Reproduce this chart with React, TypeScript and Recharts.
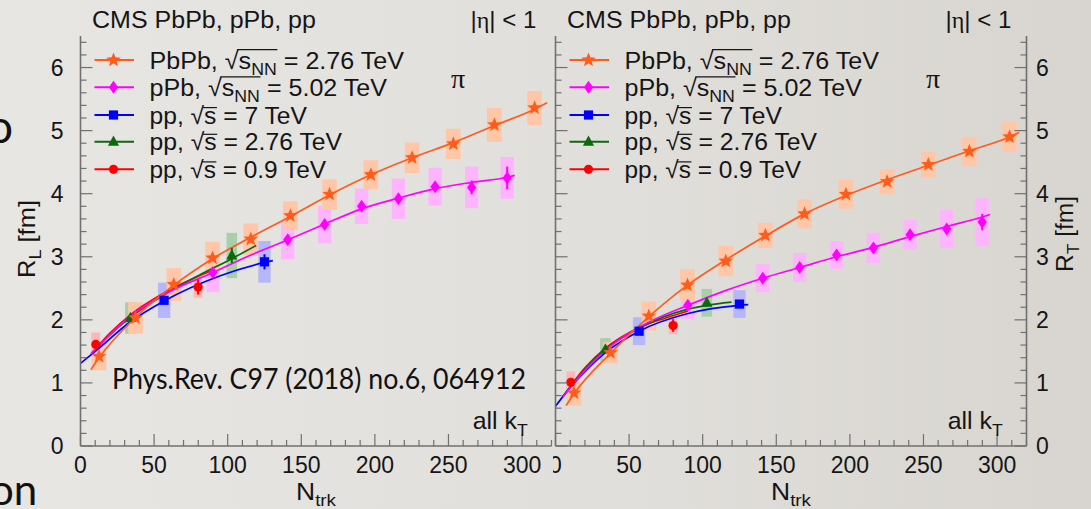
import React from 'react';
import {
  ComposedChart,
  Line,
  Scatter,
  XAxis,
  YAxis,
  ErrorBar,
  ReferenceArea,
  Legend,
} from 'recharts';

// ---------- bin centres (N_trk) ----------
const PBPB_N = [12.6, 37.4, 63.4, 89.7, 115.7, 142.6, 169.2, 197.3, 225.3, 253.3, 281.2, 308.5];
const PPB_N = [89.9, 140.8, 165.9, 191.0, 216.0, 240.9, 265.8, 289.9];
const PP7_N = [56.8, 125.0];
const PP276_N = [33.9, 102.8];
const PP09_N = [10.4, 79.9];

// ---------- R_L [fm] ----------
const RL_PBPB = [1.42, 2.03, 2.56, 2.98, 3.28, 3.65, 3.99, 4.3, 4.57, 4.79, 5.09, 5.36];
const RL_PBPB_STAT = [0.03, 0.02, 0.02, 0.02, 0.02, 0.02, 0.02, 0.02, 0.03, 0.03, 0.04, 0.05];
const RL_PBPB_SYS = [0.22, 0.25, 0.26, 0.26, 0.25, 0.23, 0.24, 0.23, 0.24, 0.24, 0.27, 0.27];
const RL_PPB = [2.75, 3.27, 3.51, 3.8, 3.92, 4.11, 4.1, 4.25];
const RL_PPB_STAT = [0.04, 0.04, 0.04, 0.05, 0.05, 0.06, 0.11, 0.18];
const RL_PPB_SYS = [0.31, 0.31, 0.3, 0.28, 0.32, 0.3, 0.33, 0.33];
const RL_PP7 = [2.31, 2.92];
const RL_PP7_STAT = [0.05, 0.12];
const RL_PP7_SYS = [0.28, 0.33];
const RL_PP276 = [2.03, 3.02];
const RL_PP276_STAT = [0.05, 0.12];
const RL_PP276_SYS = [0.25, 0.36];
const RL_PP09 = [1.61, 2.52];
const RL_PP09_STAT = [0.05, 0.12];
const RL_PP09_SYS = [0.19, 0.17];

// fitted curves, R_L
const RL_PBPB_FIT_N = [7, 12.6, 37.4, 63.4, 89.7, 115.7, 142.6, 169.2, 197.3, 225.3, 253.3, 281.2, 308.5, 317];
const RL_PBPB_FIT = [1.21, 1.4, 2.04, 2.55, 2.97, 3.31, 3.64, 3.98, 4.3, 4.57, 4.81, 5.08, 5.34, 5.44];
const RL_PPB_FIT_N = [7, 33, 60, 90, 115, 141, 166, 191, 216, 241, 266, 290, 295];
const RL_PPB_FIT = [1.46, 2.04, 2.44, 2.75, 3.02, 3.27, 3.52, 3.76, 3.93, 4.08, 4.18, 4.26, 4.29];
const RL_PP7_FIT_N = [0, 10, 33.9, 56.8, 95, 125, 130.7];
const RL_PP7_FIT = [1.31, 1.5, 1.97, 2.3, 2.7, 2.91, 2.94];
const RL_PP276_FIT_N = [7.5, 20, 33.9, 57, 80, 102.8, 119.4];
const RL_PP276_FIT = [1.46, 1.76, 2.04, 2.4, 2.7, 2.97, 3.18];
const RL_PP09_FIT_N = [7.5, 20, 33.9, 57, 75, 88];
const RL_PP09_FIT = [1.47, 1.79, 2.08, 2.43, 2.64, 2.77];

// ---------- R_T [fm] ----------
const RT_PBPB = [0.84, 1.48, 2.06, 2.55, 2.93, 3.34, 3.68, 3.99, 4.19, 4.46, 4.67, 4.9];
const RT_PBPB_STAT = [0.03, 0.02, 0.02, 0.02, 0.02, 0.02, 0.02, 0.02, 0.03, 0.03, 0.04, 0.05];
const RT_PBPB_SYS = [0.2, 0.17, 0.23, 0.25, 0.24, 0.2, 0.23, 0.23, 0.2, 0.21, 0.23, 0.24];
const RT_PPB = [2.23, 2.66, 2.83, 3.03, 3.14, 3.35, 3.44, 3.55];
const RT_PPB_STAT = [0.04, 0.04, 0.04, 0.05, 0.05, 0.06, 0.08, 0.13];
const RT_PPB_SYS = [0.22, 0.22, 0.23, 0.22, 0.24, 0.24, 0.3, 0.38];
const RT_PP7 = [1.82, 2.25];
const RT_PP7_STAT = [0.04, 0.06];
const RT_PP7_SYS = [0.22, 0.22];
const RT_PP276 = [1.53, 2.27];
const RT_PP276_STAT = [0.04, 0.06];
const RT_PP276_SYS = [0.18, 0.22];
const RT_PP09 = [1.01, 1.91];
const RT_PP09_STAT = [0.04, 0.1];
const RT_PP09_SYS = [0.17, 0.14];

// fitted curves, R_T
const RT_PBPB_FIT_N = [7.1, 12.6, 37.4, 63.4, 89.7, 115.7, 142.6, 169.2, 197.3, 225.3, 253.3, 281.2, 308.5, 315];
const RT_PBPB_FIT = [0.64, 0.83, 1.47, 2.05, 2.55, 2.95, 3.33, 3.68, 3.97, 4.22, 4.45, 4.68, 4.9, 4.97];
const RT_PPB_FIT_N = [5, 20, 34, 64, 89.9, 115, 140.8, 165.9, 191, 216, 240.9, 265.8, 289.9, 295.3];
const RT_PPB_FIT = [0.78, 1.2, 1.52, 1.97, 2.23, 2.46, 2.66, 2.83, 3.0, 3.15, 3.32, 3.48, 3.63, 3.67];
const RT_PP7_FIT_N = [0, 10, 20, 33.9, 56.8, 90, 125, 131];
const RT_PP7_FIT = [0.63, 0.93, 1.18, 1.48, 1.82, 2.1, 2.23, 2.24];
const RT_PP276_FIT_N = [5, 20, 33.9, 57, 90, 102.8, 119.6];
const RT_PP276_FIT = [0.78, 1.22, 1.53, 1.87, 2.17, 2.23, 2.28];
const RT_PP09_FIT_N = [5, 20, 33.9, 57, 75, 90];
const RT_PP09_FIT = [0.78, 1.24, 1.55, 1.88, 2.03, 2.14];

// ---------- axes ----------
const N_DOMAIN: [number, number] = [0, 320];
const R_DOMAIN: [number, number] = [0, 6.5];
const N_TICKS = Array.from({ length: 33 }, (_, i) => i * 10);
const R_TICKS = Array.from({ length: 33 }, (_, i) => Math.round(i * 2) / 10);

// ---------- look ----------
const SANS = "'Liberation Sans', Arial, Helvetica, sans-serif";
const SERIF = "'Liberation Serif', 'Times New Roman', serif";
const INK = '#151515';
const FRAME = '#707070';
const TEXT_SIZE = 24;
const SUB_SIZE = 17;
const TICK_SIZE = 23;

type MarkerKind = 'star' | 'diamond' | 'square' | 'triangle' | 'circle';

type Series = {
  id: string;
  color: string;
  box: string;
  marker: MarkerKind;
  halfWidth: number;
  n: number[];
  r: number[];
  stat: number[];
  sys: number[];
  fitN: number[];
  fitR: number[];
};

const STYLE = {
  pbpb: { color: '#ff5c1c', box: '#ffc7a8', marker: 'star' as MarkerKind, halfWidth: 5.0 },
  ppb: { color: '#ff00ff', box: '#ffb4ff', marker: 'diamond' as MarkerKind, halfWidth: 4.5 },
  pp7: { color: '#0000ff', box: '#b6b6fa', marker: 'square' as MarkerKind, halfWidth: 4.2 },
  pp276: { color: '#0c6a0c', box: '#a9cfa9', marker: 'triangle' as MarkerKind, halfWidth: 3.6 },
  pp09: { color: '#ff0000', box: '#ffb6b6', marker: 'circle' as MarkerKind, halfWidth: 3.0 },
};

const LEFT_SERIES: Series[] = [
  { id: 'pp09', ...STYLE.pp09, n: PP09_N, r: RL_PP09, stat: RL_PP09_STAT, sys: RL_PP09_SYS, fitN: RL_PP09_FIT_N, fitR: RL_PP09_FIT },
  { id: 'pp276', ...STYLE.pp276, n: PP276_N, r: RL_PP276, stat: RL_PP276_STAT, sys: RL_PP276_SYS, fitN: RL_PP276_FIT_N, fitR: RL_PP276_FIT },
  { id: 'pp7', ...STYLE.pp7, n: PP7_N, r: RL_PP7, stat: RL_PP7_STAT, sys: RL_PP7_SYS, fitN: RL_PP7_FIT_N, fitR: RL_PP7_FIT },
  { id: 'ppb', ...STYLE.ppb, n: PPB_N, r: RL_PPB, stat: RL_PPB_STAT, sys: RL_PPB_SYS, fitN: RL_PPB_FIT_N, fitR: RL_PPB_FIT },
  { id: 'pbpb', ...STYLE.pbpb, n: PBPB_N, r: RL_PBPB, stat: RL_PBPB_STAT, sys: RL_PBPB_SYS, fitN: RL_PBPB_FIT_N, fitR: RL_PBPB_FIT },
];

const RIGHT_SERIES: Series[] = [
  { id: 'pp09', ...STYLE.pp09, n: PP09_N, r: RT_PP09, stat: RT_PP09_STAT, sys: RT_PP09_SYS, fitN: RT_PP09_FIT_N, fitR: RT_PP09_FIT },
  { id: 'pp276', ...STYLE.pp276, n: PP276_N, r: RT_PP276, stat: RT_PP276_STAT, sys: RT_PP276_SYS, fitN: RT_PP276_FIT_N, fitR: RT_PP276_FIT },
  { id: 'pp7', ...STYLE.pp7, n: PP7_N, r: RT_PP7, stat: RT_PP7_STAT, sys: RT_PP7_SYS, fitN: RT_PP7_FIT_N, fitR: RT_PP7_FIT },
  { id: 'ppb', ...STYLE.ppb, n: PPB_N, r: RT_PPB, stat: RT_PPB_STAT, sys: RT_PPB_SYS, fitN: RT_PPB_FIT_N, fitR: RT_PPB_FIT },
  { id: 'pbpb', ...STYLE.pbpb, n: PBPB_N, r: RT_PBPB, stat: RT_PBPB_STAT, sys: RT_PBPB_SYS, fitN: RT_PBPB_FIT_N, fitR: RT_PBPB_FIT },
];

// legend rows: label pieces around the sqrt(s) and the set width of each line of text
const LEGEND_ROWS = [
  { id: 'pbpb', pre: 'PbPb, ', sub: 'NN', post: ' = 2.76 TeV', width: 255 },
  { id: 'ppb', pre: 'pPb, ', sub: 'NN', post: ' = 5.02 TeV', width: 238 },
  { id: 'pp7', pre: 'pp, ', sub: '', post: ' = 7 TeV', width: 158 },
  { id: 'pp276', pre: 'pp, ', sub: '', post: ' = 2.76 TeV', width: 193 },
  { id: 'pp09', pre: 'pp, ', sub: '', post: ' = 0.9 TeV', width: 177 },
];

// ---------- text helpers ----------
let measureCtx: CanvasRenderingContext2D | null = null;
function textWidth(s: string, size: number, family = SANS): number {
  if (!measureCtx) measureCtx = document.createElement('canvas').getContext('2d');
  if (!measureCtx) return s.length * size * 0.55;
  measureCtx.font = `${size}px ${family}`;
  return measureCtx.measureText(s).width;
}

type Seg = { t: string; size?: number; dy?: number; family?: string };

// Text set to a given overall width (horizontal scale only), optionally rotated.
function FitText({
  x,
  y,
  width,
  segs,
  anchor = 'start',
  rotate = 0,
  size = TEXT_SIZE,
  family = SANS,
  fill = INK,
  children,
}: {
  x: number;
  y: number;
  width: number;
  segs: Seg[];
  anchor?: 'start' | 'middle' | 'end';
  rotate?: number;
  size?: number;
  family?: string;
  fill?: string;
  children?: (w: number[]) => React.ReactNode;
}) {
  const widths = segs.map((s) => textWidth(s.t, s.size ?? size, s.family ?? family));
  const total = widths.reduce((a, b) => a + b, 0) || 1;
  const sx = width / total;
  const x0 = anchor === 'start' ? 0 : anchor === 'end' ? -total : -total / 2;
  return (
    <g transform={`translate(${x},${y}) rotate(${rotate}) scale(${sx},1) translate(${x0},0)`}>
      <text x={0} y={0} fontSize={size} fontFamily={family} fill={fill} style={{ whiteSpace: 'pre' }}>
        {segs.map((s, i) => (
          <tspan key={i} fontSize={s.size ?? size} fontFamily={s.family ?? family} dy={s.dy ?? 0}>
            {s.t}
          </tspan>
        ))}
      </text>
      {children ? children(widths) : null}
    </g>
  );
}

function Marker({ kind, cx, cy, color }: { kind: MarkerKind; cx: number; cy: number; color: string }) {
  switch (kind) {
    case 'star': {
      const pts: string[] = [];
      for (let i = 0; i < 10; i++) {
        const a = -Math.PI / 2 + (i * Math.PI) / 5;
        const rr = i % 2 === 0 ? 7.6 : 3.3;
        pts.push(`${cx + rr * Math.cos(a)},${cy + rr * Math.sin(a)}`);
      }
      return <polygon points={pts.join(' ')} fill={color} />;
    }
    case 'diamond':
      return <polygon points={`${cx},${cy - 6.5} ${cx + 4.6},${cy} ${cx},${cy + 6.5} ${cx - 4.6},${cy}`} fill={color} />;
    case 'square':
      return <rect x={cx - 4.6} y={cy - 4.6} width={9.2} height={9.2} fill={color} />;
    case 'triangle':
      return <polygon points={`${cx},${cy - 6.2} ${cx + 5.6},${cy + 4} ${cx - 5.6},${cy + 4}`} fill={color} />;
    default:
      return <circle cx={cx} cy={cy} r={4.6} fill={color} />;
  }
}

// ---------- tick renderers (ticks point into the frame) ----------
const MAJ = 12;
const MIN = 6;

function makeBottomTick(labels: boolean) {
  return (p: any) => {
    const { x, y, payload } = p;
    const v = payload.value as number;
    const major = v % 50 === 0;
    return (
      <g>
        <line x1={x} x2={x} y1={y} y2={y - (major ? MAJ : MIN)} stroke={FRAME} strokeWidth={1.2} />
        {labels && major && (
          <text x={x} y={y + 27} textAnchor="middle" fontSize={TICK_SIZE} fontFamily={SANS} fill={INK}>
            {v}
          </text>
        )}
      </g>
    );
  };
}

function topTick(p: any) {
  const { x, y, payload } = p;
  const major = (payload.value as number) % 50 === 0;
  return <line x1={x} x2={x} y1={y} y2={y + (major ? MAJ : MIN)} stroke={FRAME} strokeWidth={1.2} />;
}

function makeLeftTick(labels: boolean) {
  return (p: any) => {
    const { x, y, payload } = p;
    const v = payload.value as number;
    const major = Number.isInteger(v);
    return (
      <g>
        <line x1={x} x2={x + (major ? MAJ : MIN)} y1={y} y2={y} stroke={FRAME} strokeWidth={1.2} />
        {labels && major && (
          <text x={x - 17} y={y + 8.3} textAnchor="end" fontSize={TICK_SIZE} fontFamily={SANS} fill={INK}>
            {v}
          </text>
        )}
      </g>
    );
  };
}

function makeRightTick(labels: boolean) {
  return (p: any) => {
    const { x, y, payload } = p;
    const v = payload.value as number;
    const major = Number.isInteger(v);
    return (
      <g>
        <line x1={x} x2={x - (major ? MAJ : MIN)} y1={y} y2={y} stroke={FRAME} strokeWidth={1.2} />
        {labels && major && (
          <text x={x + 9.5} y={y + 8.3} textAnchor="start" fontSize={TICK_SIZE} fontFamily={SANS} fill={INK}>
            {v}
          </text>
        )}
      </g>
    );
  };
}

// ---------- legend ----------
function LegendLabel({ x, y, row }: { x: number; y: number; row: (typeof LEGEND_ROWS)[number] }) {
  const segs: Seg[] = [{ t: row.pre }, { t: '\u221A' }, { t: 's' }];
  if (row.sub) segs.push({ t: row.sub, size: SUB_SIZE, dy: 6 });
  segs.push({ t: row.post, dy: row.sub ? -6 : 0 });
  return (
    <FitText x={x} y={y} width={row.width} segs={segs}>
      {(w) => {
        const x0 = w[0] + w[1];
        const x1 = x0 + w[2] + (row.sub ? w[3] : 0);
        const barY = row.sub ? -19 : -16;
        return <line x1={x0 - 1.5} x2={x1 + 0.5} y1={barY} y2={barY} stroke={INK} strokeWidth={1.2} />;
      }}
    </FitText>
  );
}

function LegendBox() {
  const rowY = [16, 43.3, 71, 97.7, 125.3];
  return (
    <svg width={360} height={145} style={{ overflow: 'visible' }}>
      {LEGEND_ROWS.map((row, i) => {
        const st = STYLE[row.id as keyof typeof STYLE];
        const cy = rowY[i];
        return (
          <g key={row.id}>
            <line x1={4.5} x2={44} y1={cy} y2={cy} stroke={st.color} strokeWidth={2} />
            <Marker kind={st.marker} cx={23.5} cy={cy} color={st.color} />
            <LegendLabel x={59.5} y={cy + 8.6} row={row} />
          </g>
        );
      })}
    </svg>
  );
}

// ---------- one panel ----------
type PanelProps = {
  series: Series[];
  width: number;
  leftAxisWidth: number;
  rightAxisWidth: number;
  marginRight: number;
  leftLabels: boolean;
  rightLabels: boolean;
  legendLeft: number;
};

function Panel({ series, width, leftAxisWidth, rightAxisWidth, marginRight, leftLabels, rightLabels, legendLeft }: PanelProps) {
  const boxes = series.flatMap((s) =>
    s.n.map((n, i) => (
      <ReferenceArea
        key={`box-${s.id}-${i}`}
        xAxisId="b"
        yAxisId="l"
        x1={n - s.halfWidth}
        x2={n + s.halfWidth}
        y1={s.r[i] - s.sys[i]}
        y2={s.r[i] + s.sys[i]}
        fill={s.box}
        fillOpacity={1}
        stroke="none"
        ifOverflow="visible"
      />
    ))
  );

  const fits = series.map((s) => (
    <Line
      key={`fit-${s.id}`}
      xAxisId="b"
      yAxisId="l"
      data={s.fitN.map((n, i) => ({ n, r: s.fitR[i] }))}
      dataKey="r"
      type="monotone"
      stroke={s.color}
      strokeWidth={1.7}
      dot={false}
      activeDot={false}
      isAnimationActive={false}
      legendType="none"
    />
  ));

  const points = series.map((s) => (
    <Scatter
      key={`pts-${s.id}`}
      xAxisId="b"
      yAxisId="l"
      data={s.n.map((n, i) => ({ n, r: s.r[i], e: s.stat[i] }))}
      dataKey="r"
      isAnimationActive={false}
      legendType="none"
      shape={(p: any) => <Marker kind={s.marker} cx={p.cx} cy={p.cy} color={s.color} />}
    >
      <ErrorBar dataKey="e" direction="y" width={0} stroke={s.color} strokeWidth={2} isAnimationActive={false} />
    </Scatter>
  ));

  return (
    <ComposedChart width={width} height={509} margin={{ top: 36, right: marginRight, bottom: 0, left: 0 }}>
      {boxes}
      {fits}
      {points}
      <XAxis
        xAxisId="b"
        dataKey="n"
        type="number"
        orientation="bottom"
        domain={N_DOMAIN}
        allowDataOverflow
        ticks={N_TICKS}
        interval={0}
        height={63}
        tickSize={0}
        tickMargin={0}
        tickLine={false}
        axisLine={{ stroke: FRAME, strokeWidth: 1.6 }}
        tick={makeBottomTick(true)}
      />
      <XAxis
        xAxisId="t"
        type="number"
        orientation="top"
        domain={N_DOMAIN}
        allowDataOverflow
        ticks={N_TICKS}
        interval={0}
        height={0}
        tickSize={0}
        tickMargin={0}
        tickLine={false}
        axisLine={{ stroke: FRAME, strokeWidth: 1.6 }}
        tick={topTick}
      />
      <YAxis
        yAxisId="l"
        dataKey="r"
        type="number"
        orientation="left"
        domain={R_DOMAIN}
        allowDataOverflow
        ticks={R_TICKS}
        interval={0}
        width={leftAxisWidth}
        tickSize={0}
        tickMargin={0}
        tickLine={false}
        axisLine={{ stroke: FRAME, strokeWidth: 1.6 }}
        tick={makeLeftTick(leftLabels)}
      />
      <YAxis
        yAxisId="r"
        type="number"
        orientation="right"
        domain={R_DOMAIN}
        allowDataOverflow
        ticks={R_TICKS}
        interval={0}
        width={rightAxisWidth}
        tickSize={0}
        tickMargin={0}
        tickLine={false}
        axisLine={{ stroke: FRAME, strokeWidth: 1.6 }}
        tick={makeRightTick(rightLabels)}
      />
      <Legend
        layout="vertical"
        align="center"
        verticalAlign="middle"
        wrapperStyle={{ left: legendLeft, top: 44, width: 360, height: 145 }}
        content={() => <LegendBox />}
      />
    </ComposedChart>
  );
}

// ---------- annotations drawn over both frames ----------
function PanelNotes({ plotLeft, plotRight }: { plotLeft: number; plotRight: number }) {
  const mid = (plotLeft + plotRight) / 2;
  return (
    <g>
      <FitText x={plotLeft + 11.5} y={28} width={224} segs={[{ t: 'CMS PbPb, pPb, pp' }]} />
      <FitText
        x={plotLeft + 456}
        y={28}
        width={66}
        anchor="end"
        segs={[{ t: '|' }, { t: '\u03B7', family: SERIF }, { t: '| < 1' }]}
      />
      <text x={plotLeft + 377.5} y={88} fontSize={28} fontFamily={SERIF} fill={INK} textAnchor="middle">
        {'\u03C0'}
      </text>
      <FitText x={plotLeft + 392.2} y={428.5} width={55} segs={[{ t: 'all k' }, { t: 'T', size: SUB_SIZE, dy: 7 }]} />
      <FitText x={mid} y={499.5} width={40} anchor="middle" segs={[{ t: 'N' }, { t: 'trk', size: SUB_SIZE, dy: 6 }]} />
    </g>
  );
}

function Notes() {
  return (
    <svg
      width={1091}
      height={509}
      style={{ position: 'absolute', left: 0, top: 0, pointerEvents: 'none', overflow: 'hidden' }}
    >
      <PanelNotes plotLeft={80.5} plotRight={551.5} />
      <PanelNotes plotLeft={555.5} plotRight={1026.5} />
      <FitText
        x={35}
        y={239}
        rotate={-90}
        width={78}
        anchor="middle"
        segs={[{ t: 'R' }, { t: 'L', size: SUB_SIZE, dy: 6 }, { t: ' [fm]', dy: -6 }]}
      />
      <FitText
        x={1073}
        y={234}
        rotate={-90}
        width={76}
        anchor="middle"
        segs={[{ t: 'R' }, { t: 'T', size: SUB_SIZE, dy: 6 }, { t: ' [fm]', dy: -6 }]}
      />
      <text x={112} y={388.5} fontSize={28} fontFamily="Lato, 'Open Sans', sans-serif" fill="#111" textLength={414} lengthAdjust="spacingAndGlyphs">
        Phys.Rev. C97 (2018) no.6, 064912
      </text>
      <text x={-13} y={143} fontSize={46} fontFamily="Lato, sans-serif" fill="#111">
        o
      </text>
      <text x={-10} y={505} fontSize={42} fontFamily="Lato, sans-serif" fill="#111">
        on
      </text>
    </svg>
  );
}

export default function App() {
  return (
    <div
      style={{
        position: 'absolute',
        left: 0,
        top: 0,
        width: 1091,
        height: 509,
        overflow: 'hidden',
        background: 'linear-gradient(90deg, #e7e6e3 0%, #e1dfdb 55%, #d8d5d0 100%)',
      }}
    >
      <div style={{ position: 'absolute', left: 0, top: 0 }}>
        <Panel
          series={LEFT_SERIES}
          width={553}
          leftAxisWidth={80.5}
          rightAxisWidth={0}
          marginRight={1.5}
          leftLabels
          rightLabels={false}
          legendLeft={90}
        />
      </div>
      <div style={{ position: 'absolute', left: 553, top: 0 }}>
        <Panel
          series={RIGHT_SERIES}
          width={538}
          leftAxisWidth={2.5}
          rightAxisWidth={64.5}
          marginRight={0}
          leftLabels={false}
          rightLabels
          legendLeft={11.8}
        />
      </div>
      <Notes />
    </div>
  );
}
